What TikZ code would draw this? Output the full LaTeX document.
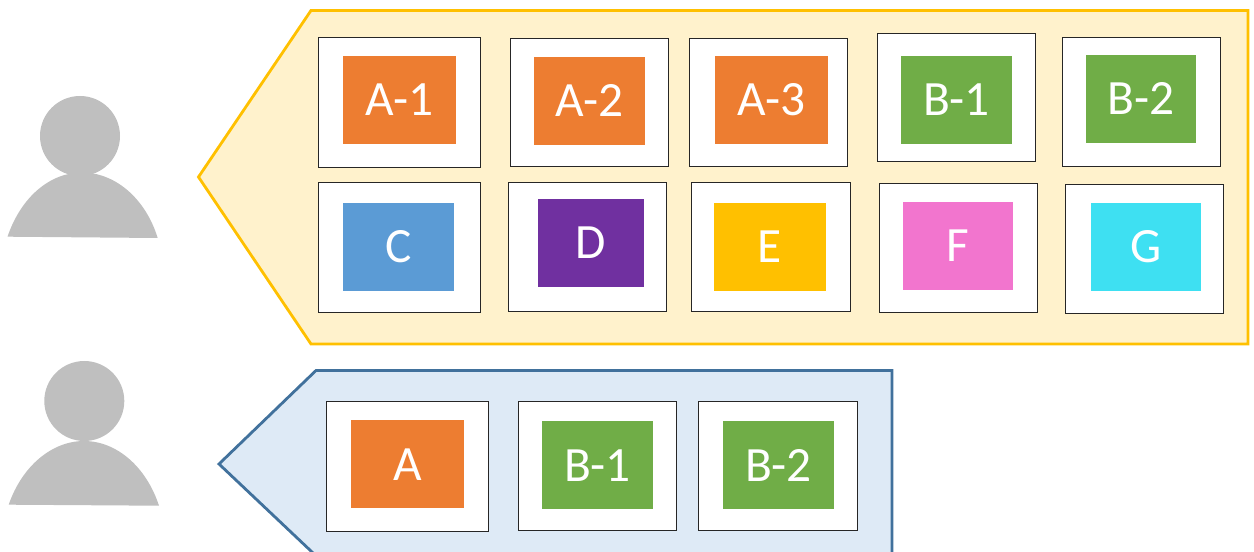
\documentclass[tikz,border=0pt]{standalone}
\usepackage{fontspec}
\setmainfont{Carlito}
\definecolor{cOrange}{HTML}{ED7D31}
\definecolor{cGreen}{HTML}{70AD47}
\definecolor{cBlue}{HTML}{5B9BD5}
\definecolor{cPurple}{HTML}{7030A0}
\definecolor{cYellow}{HTML}{FFC000}
\definecolor{cPink}{HTML}{F275CE}
\definecolor{cCyan}{HTML}{3EE0F2}
\definecolor{cYellowBg}{HTML}{FFF2CC}
\definecolor{cBlueBg}{HTML}{DEEAF6}
\definecolor{cBlueLine}{HTML}{41719C}
\definecolor{cPerson}{HTML}{BFBFBF}
\tikzset{
  outerbox/.style={draw=black!85,fill=white,line width=0.7pt,inner sep=0pt,outer sep=0pt},
  innerbox/.style={inner sep=0pt,outer sep=0pt,text=white,font=\fontsize{37}{37}\selectfont,
     text height=24pt,text depth=0pt,align=center},
  tag/.style={line width=2.1pt,line join=miter},
  person/.style={fill=cPerson,draw=none},
}
\newcommand{\card}[5]{% name, {ox0,oy0,ox1,oy1}, {ix0,iy0,ix1,iy1}, colour, label
  \cardparse{#1}#2;#3;{#4}{#5}}
\def\cardparse#1#2,#3,#4,#5;#6,#7,#8,#9;{\cardfinish{#1}{#2}{#3}{#4}{#5}{#6}{#7}{#8}{#9}}
\newcommand{\cardfinish}[9]{%
  \pgfmathsetmacro{\ocx}{(#2+#4)/2}\pgfmathsetmacro{\ocy}{(#3+#5)/2}%
  \pgfmathsetmacro{\ow}{(#4-#2)*0.75}\pgfmathsetmacro{\oh}{(#5-#3)*0.75}%
  \pgfmathsetmacro{\icx}{(#6+#8)/2}\pgfmathsetmacro{\icy}{(#7+#9)/2}%
  \pgfmathsetmacro{\iw}{(#8-#6)*0.75}\pgfmathsetmacro{\ih}{(#9-#7)*0.75}%
  \node[outerbox,minimum width=\ow pt,minimum height=\oh pt] (#1o) at (\ocx,\ocy) {};%
  \cardlabel{#1}}
\newcommand{\cardlabel}[3]{%
  \node[innerbox,fill=#2,minimum width=\iw pt,minimum height=\ih pt] (#1) at (\icx,\icy) {#3};}
\begin{document}
\begin{tikzpicture}[x=0.75pt,y=-0.75pt]
\clip (0,0) rectangle (1254,552);
% tags
\filldraw[tag,draw=cYellow,fill=cYellowBg] (198.5,177) -- (311,10.5) -- (1248,10.5) -- (1248,344) -- (311,344) -- cycle;
\filldraw[tag,draw=cBlueLine,fill=cBlueBg] (219,464) -- (316,370.5) -- (892,370.5) -- (892,570) -- (331,570) -- cycle;
% persons
\fill[person] (80,136) circle (40);
\fill[person] (7.5,236.7) .. controls (21,197) and (50,172.5) .. (82,172.5) .. controls (114,172.5) and (145,197) .. (157.7,238) -- cycle;
\fill[person] (84.3,401) circle (40);
\fill[person] (8.7,504.7) .. controls (22,466) and (52,441) .. (84,441) .. controls (116,441) and (146,466) .. (159,505.7) -- cycle;
% cards
\card{aa}{318.5,37.5,480,167}{343,56,456,144}{cOrange}{A-1}
\card{ab}{510,38,668,166}{534,57,645,145}{cOrange}{A-2}
\card{ac}{689,38,847,166}{715,56,828,144}{cOrange}{A-3}
\card{ba}{877,33,1035,161}{901,56,1012,144}{cGreen}{B-1}
\card{bb}{1062,37,1220,166}{1086,55,1196,143}{cGreen}{B-2}
\card{c}{318.5,182,480,312}{343,203,454,291}{cBlue}{C}
\card{d}{508,182,666,311}{538,199,644,287}{cPurple}{D}
\card{e}{691.5,182,850,311}{714,203,826,291}{cYellow}{E}
\card{f}{879,183,1037,312}{903,202,1013,290}{cPink}{F}
\card{g}{1065,184,1223,313}{1091,203,1201,291}{cCyan}{G}
\card{a}{326,401,488,531}{351,420,464,508}{cOrange}{A}
\card{xa}{518,401,676,530}{542,421,653,509}{cGreen}{B-1}
\card{xb}{698.5,401,857,530}{723,421,834,509}{cGreen}{B-2}
\end{tikzpicture}
\end{document}
